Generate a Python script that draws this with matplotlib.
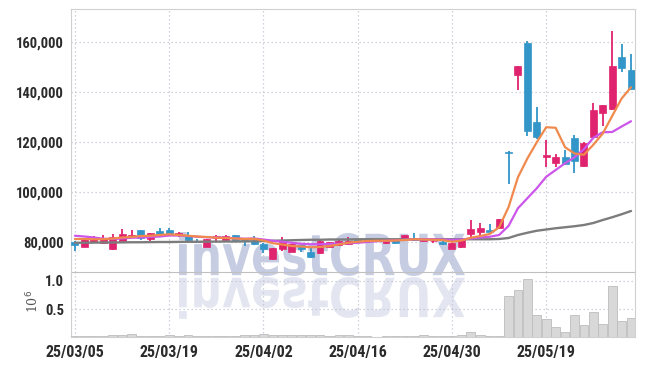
import numpy as np
import pandas as pd
import matplotlib
matplotlib.use("Agg")
import matplotlib.pyplot as plt
from matplotlib import font_manager
from matplotlib.textpath import TextPath
from matplotlib.patches import PathPatch
from matplotlib.font_manager import FontProperties
from matplotlib.transforms import Affine2D
from matplotlib.ticker import FuncFormatter

# ---------------- data ----------------
holidays = ["2025-05-01", "2025-05-05", "2025-05-06"]
dates = [d for d in pd.bdate_range("2025-03-05", "2025-06-10") if d.strftime("%Y-%m-%d") not in holidays][:60]

opens = [80100, 78200, 80100, 79600, 77200, 80600, 82000, 84900, 81400, 84500,
         84900, 82900, 82400, 80700, 78300, 81600, 80900, 82900, 81000, 80700,
         79300, 73200, 77300, 76300, 78800, 76300, 75600, 78200, 78800, 79300,
         80900, 81300, 80500, 79600, 81300, 81300, 81600, 80700, 80400, 80200,
         77400, 78000, 83300, 84000, 84900, 85600, 116200, 147000, 159600, 128200,
         114000, 111800, 114000, 121800, 110500, 122000, 131600, 133200, 154000, 148900]
highs = [80400, 81400, 82600, 82900, 83300, 85200, 84900, 85000, 83800, 85600,
         85800, 84200, 84200, 81200, 81400, 82900, 82900, 83000, 81600, 82600,
         79600, 77800, 82000, 79400, 79000, 78000, 80800, 80300, 80800, 82200,
         81200, 81500, 81000, 81100, 81500, 83000, 83600, 81300, 81000, 80400,
         79800, 81100, 88900, 87600, 87200, 89400, 116400, 150600, 160500, 134000,
         121000, 115300, 116900, 123000, 120200, 135600, 135100, 164700, 159200, 155200]
lows = [76500, 78000, 80000, 79400, 77000, 80400, 81700, 80900, 80600, 83100,
        82500, 82100, 80200, 79600, 78200, 80600, 80700, 80500, 78500, 79000,
        75600, 73000, 76600, 76100, 76000, 73800, 75400, 78000, 78600, 79100,
        79800, 80300, 80000, 79400, 79300, 81100, 80700, 80400, 79900, 79000,
        77200, 77800, 82200, 82300, 84100, 85400, 103300, 141000, 122600, 121500,
        110000, 110200, 111000, 107600, 110000, 121800, 126500, 132900, 148300, 141000]
closes = [78800, 81200, 81200, 81400, 82000, 83300, 83000, 81600, 83600, 83300,
          83300, 83700, 80800, 80100, 81200, 82600, 82700, 81100, 80500, 79300,
          77500, 77600, 80900, 79200, 77200, 74000, 80500, 80000, 80500, 80500,
          80200, 80600, 80700, 80900, 79600, 82800, 80900, 81000, 80700, 79200,
          79600, 80900, 85200, 85600, 84300, 89200, 115800, 150500, 124600, 122200,
          115000, 114000, 111300, 112700, 119800, 133000, 134900, 150600, 149800, 141200]
volumes = [30000, 30000, 30000, 30000, 50000, 50000, 70000, 30000, 30000, 20000,
           50000, 20000, 50000, 20000, 30000, 20000, 20000, 20000, 50000, 50000,
           70000, 40000, 40000, 40000, 40000, 50000, 40000, 20000, 40000, 50000,
           20000, 20000, 10000, 20000, 30000, 20000, 30000, 50000, 30000, 30000,
           30000, 50000, 90000, 50000, 20000, 30000, 725000, 830000, 1035000, 390000,
           320000, 180000, 96000, 390000, 220000, 440000, 236000, 900000, 290000, 350000]
ma5 = [81300, 81300, 81200, 81200, 81500, 81900, 82100, 82500, 82600, 82900,
       83200, 82900, 82600, 82300, 82100, 81800, 81700, 81500, 81300, 81400,
       80700, 79600, 79100, 78500, 78300, 78000, 78100, 78500, 79100, 79800,
       80200, 80500, 80600, 80600, 80700, 80900, 81200, 81100, 81000, 80900,
       80200, 80700, 81800, 82500, 83300, 86000, 94000, 106000, 113500, 120000,
       126000, 125800, 118000, 115500, 115000, 119000, 123500, 130500, 137500, 142000]
ma10 = [82600, 82300, 81900, 81400, 81300, 81500, 81800, 81900, 82100, 82300,
        82700, 82700, 82500, 82200, 82000, 81900, 81800, 81600, 81400, 81500,
        81100, 80600, 80200, 79800, 79400, 79200, 79200, 79300, 79400, 79600,
        79800, 80100, 80400, 80600, 80800, 81000, 81200, 81200, 81200, 81100,
        80900, 81100, 81500, 81900, 82200, 82900, 86500, 93600, 97600, 101600,
        106200, 108900, 111600, 114000, 117200, 121800, 124000, 124100, 126300, 128400]
ma60 = [79800, 79800, 79850, 79900, 79900, 79950, 80000, 80000, 80050, 80100,
        80100, 80150, 80200, 80200, 80250, 80250, 80300, 80300, 80350, 80400,
        80500, 80600, 80700, 80800, 80900, 81000, 81000, 81100, 81100, 81100,
        81200, 81200, 81200, 81200, 81200, 81200, 81200, 81200, 81200, 81200,
        81200, 81200, 81200, 81200, 81200, 81300, 81700, 82900, 83800, 84600,
        85100, 85600, 86000, 86400, 86900, 87700, 88900, 90000, 91200, 92500]
price_ticks = [80000, 100000, 120000, 140000, 160000]
vol_ticks = [0.5, 1.0]
tick_every = 10

# ---------------- fonts ----------------
def pick_font():
    cands = [
        dict(family="Liberation Sans Narrow", stretch="normal"),
        dict(family="Roboto Condensed", stretch="normal"),
        dict(family="DejaVu Sans", stretch="condensed"),
        dict(family="Open Sans", stretch="condensed"),
        dict(family="Noto Sans", stretch="condensed"),
    ]
    for cd in cands:
        try:
            fp = FontProperties(family=cd["family"], stretch=cd["stretch"], weight="bold")
            path = font_manager.findfont(fp, fallback_to_default=False)
            low = path.lower()
            if "narrow" in low or "condensed" in low or "cond" in low:
                return FontProperties(fname=path), True
        except Exception:
            pass
    return FontProperties(family="Roboto", weight="bold"), False

tick_fp, condensed = pick_font()
ysize = 10.5 if condensed else 9.5
xsize = 11.5 if condensed else 10.2

UP = "#E0236E"
DOWN = "#3396C8"
GRID = "#C4C4D4"
SPINE = "#D0D0D0"
TXT = "#2B2B2B"

W, H = 645, 366
fig = plt.figure(figsize=(W / 100, H / 100), dpi=100)
fig.patch.set_facecolor("white")
ax = fig.add_axes([71 / W, 1 - 272 / H, 564 / W, 263 / H])
axv = fig.add_axes([71 / W, 1 - 337 / H, 564 / W, 65 / H], sharex=ax)
for a in (ax, axv):
    a.set_facecolor("none")

x = np.arange(len(dates))
o = np.array(opens); c = np.array(closes); hi = np.array(highs); lo = np.array(lows)
up = c >= o
colors = np.where(up, UP, DOWN)

ax.vlines(x, lo, hi, colors=colors, linewidth=1.3, zorder=3)
body_bottom = np.minimum(o, c)
body_h = np.maximum(np.abs(c - o), 250)
ax.bar(x, body_h, bottom=body_bottom, width=0.74, color=colors,
       edgecolor=colors, linewidth=0.5, zorder=4)

ax.plot(x, ma60, color="#7C7C7C", lw=1.7, zorder=5, solid_capstyle="round")
ax.plot(x, ma10, color="#CC55EA", lw=1.6, zorder=6, solid_capstyle="round")
ax.plot(x, ma5, color="#F0894C", lw=1.6, zorder=7, solid_capstyle="round")

ax.set_xlim(-0.42, 59.42)
ax.set_ylim(68100, 173300)
ax.set_yticks(price_ticks)
ax.yaxis.set_major_formatter(FuncFormatter(lambda v, p: f"{v:,.0f}"))
tick_idx = list(range(0, len(dates), tick_every))
ax.set_xticks(tick_idx)
ax.tick_params(axis="x", labelbottom=False, length=0)
ax.tick_params(axis="y", length=0, pad=5, labelcolor=TXT)
for lab in ax.get_yticklabels():
    lab.set_fontproperties(tick_fp); lab.set_fontsize(ysize); lab.set_fontweight("bold")
ax.grid(True, color=GRID, linestyle=(0, (1, 2.2)), linewidth=0.9)
ax.set_axisbelow(True)
for s in ("left", "right", "top"):
    ax.spines[s].set_color(SPINE)
ax.spines["bottom"].set_color("#C0C0C0")

vol = np.array(volumes) / 1e6
axv.bar(x, vol, width=0.92, color="#D8D8D8", edgecolor="#BDBDBD", linewidth=0.6, zorder=3)
axv.set_ylim(0.01, 1.15)
axv.set_yticks(vol_ticks)
axv.yaxis.set_major_formatter(FuncFormatter(lambda v, p: f"{v:.1f}"))
axv.set_xticks(tick_idx)
axv.set_xticklabels([dates[i].strftime("%y/%m/%d") for i in tick_idx])
axv.tick_params(axis="both", length=0, labelcolor=TXT)
axv.tick_params(axis="x", pad=6)
axv.tick_params(axis="y", pad=5)
for lab in axv.get_xticklabels():
    lab.set_fontproperties(tick_fp); lab.set_fontsize(xsize); lab.set_fontweight("bold")
for lab in axv.get_yticklabels():
    lab.set_fontproperties(tick_fp); lab.set_fontsize(ysize); lab.set_fontweight("bold")
axv.grid(True, color=GRID, linestyle=(0, (1, 2.2)), linewidth=0.9)
axv.set_axisbelow(True)
axv.spines["top"].set_visible(False)
for s in ("left", "right", "bottom"):
    axv.spines[s].set_color(SPINE)
fig.text(33 / W, 1 - 301 / H, r"10$^6$", rotation=90, ha="center", va="center",
         fontsize=9, color="#555555", family="DejaVu Serif")

# watermark with reflection
fp = FontProperties(family="DejaVu Sans", weight="bold")
tp = TextPath((0, 0), "investCRUX", size=100, prop=fp)
bb = tp.get_extents()
sx = (465 - 179) / bb.width
sy = 44 / bb.height
tr_main = Affine2D().translate(-bb.x0, -bb.y0).scale(sx, sy).translate(179, H - 276)
tr_ref = Affine2D().translate(-bb.x0, -bb.y0).scale(sx, -sy * 0.95).translate(179, H - 277)
fig.add_artist(PathPatch(tp, transform=tr_main, facecolor="#C6CCE2", edgecolor="none", zorder=-5))
fig.add_artist(PathPatch(tp, transform=tr_ref, facecolor="#E3E6F0", edgecolor="none", zorder=-5))

fig.savefig("out.png", dpi=100)
